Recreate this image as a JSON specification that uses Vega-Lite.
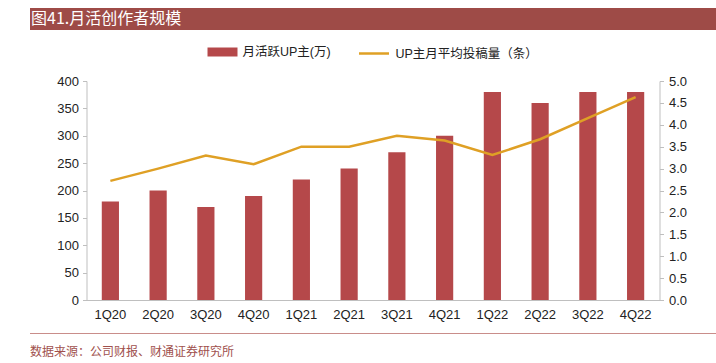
{
  "$schema": "https://vega.github.io/schema/vega-lite/v6.json",
  "padding": {"left": 30, "top": 8, "right": 0, "bottom": 0},
  "background": "white",
  "config": {"view": {"stroke": null}, "font": "Liberation Sans"},
  "bounds": "flush",
  "spacing": 51,
  "resolve": {"scale": {"fill": "independent", "stroke": "independent", "x": "independent", "y": "independent"}, "legend": {"fill": "independent", "stroke": "independent"}},
  "vconcat": [
    {
      "width": 686,
      "height": 22,
      "view": {"fill": "#9e4b47", "stroke": null},
      "data": {"values": [{"t": "图41.月活创作者规模"}]},
      "mark": {"type": "text", "align": "left", "baseline": "middle", "color": "white", "fontSize": 16, "font": "Noto Sans CJK SC", "dx": 1},
      "encoding": {
        "text": {"field": "t"},
        "x": {"datum": 0, "type": "quantitative", "scale": {"domain": [0, 1]}, "axis": null}
      }
    },
    {
      "bounds": "flush",
      "center": true,
      "spacing": 33,
      "resolve": {"scale": {"fill": "independent", "stroke": "independent", "x": "independent", "y": "independent"}, "legend": {"fill": "independent", "stroke": "independent"}},
      "vconcat": [
        {
          "width": 573,
          "height": 219,
          "data": {"values": [
            {"q": "1Q20", "up": 180, "avg": 2.72},
            {"q": "2Q20", "up": 200, "avg": 3.0},
            {"q": "3Q20", "up": 170, "avg": 3.3},
            {"q": "4Q20", "up": 190, "avg": 3.1},
            {"q": "1Q21", "up": 220, "avg": 3.5},
            {"q": "2Q21", "up": 240, "avg": 3.5},
            {"q": "3Q21", "up": 270, "avg": 3.75},
            {"q": "4Q21", "up": 300, "avg": 3.64},
            {"q": "1Q22", "up": 380, "avg": 3.31},
            {"q": "2Q22", "up": 360, "avg": 3.67},
            {"q": "3Q22", "up": 380, "avg": 4.15},
            {"q": "4Q22", "up": 380, "avg": 4.63}
          ]},
          "encoding": {
            "x": {"field": "q", "type": "nominal", "sort": null,
              "scale": {"paddingInner": 0.64, "paddingOuter": 0.32},
              "axis": {"title": null, "labelAngle": 0, "ticks": false, "labelPadding": 8, "labelFontSize": 13, "labelColor": "#222", "domainColor": "#bfbfbf"}}
          },
          "layer": [
            {
              "mark": {"type": "bar"},
              "encoding": {
                "y": {"field": "up", "type": "quantitative", "scale": {"domain": [0, 400]},
                  "axis": {"orient": "left", "title": null, "grid": false, "values": [0, 50, 100, 150, 200, 250, 300, 350, 400], "domainColor": "#bfbfbf", "tickColor": "#bfbfbf", "tickSize": 4, "labelPadding": 4, "labelFontSize": 13, "labelColor": "#222"}},
                "fill": {"datum": "月活跃UP主(万)", "scale": {"range": ["#b5484a"]},
                  "legend": {"orient": "none", "legendX": 115, "legendY": -50, "title": null, "direction": "horizontal", "symbolType": "M-1,-0.3L1,-0.3L1,0.3L-1,0.3Z", "symbolSize": 900, "symbolStrokeWidth": 0, "labelFontSize": 12.5, "labelFont": "Liberation Sans, Noto Sans CJK SC", "labelColor": "#222", "labelOffset": 5, "padding": 6}}
              }
            },
            {
              "mark": {"type": "line", "strokeWidth": 2.5},
              "encoding": {
                "y": {"field": "avg", "type": "quantitative", "scale": {"domain": [0, 5]},
                  "axis": {"orient": "right", "title": null, "grid": false, "values": [0, 0.5, 1, 1.5, 2, 2.5, 3, 3.5, 4, 4.5, 5], "format": ".1f", "domainColor": "#bfbfbf", "tickColor": "#bfbfbf", "tickSize": 4, "labelPadding": 5, "labelFontSize": 13, "labelColor": "#222"}},
                "stroke": {"datum": "UP主月平均投稿量（条）", "scale": {"range": ["#dfa025"]},
                  "legend": {"orient": "none", "legendX": 265, "legendY": -50, "title": null, "direction": "horizontal", "symbolType": "stroke", "symbolSize": 900, "symbolStrokeWidth": 2.5, "labelFontSize": 12.5, "labelFont": "Liberation Sans, Noto Sans CJK SC", "labelColor": "#222", "labelOffset": 5, "padding": 6}}
              }
            }
          ],
          "resolve": {"scale": {"y": "independent"}}
        },
        {
          "width": 686,
          "height": 1,
          "view": {"fill": "#c98d8a", "stroke": null},
          "title": {"text": "数据来源：公司财报、财通证券研究所", "orient": "bottom", "anchor": "start", "offset": 8, "fontSize": 12, "color": "#a0504d", "font": "Noto Sans CJK SC", "fontWeight": "normal"},
          "data": {"values": [{"t": ""}]},
          "mark": {"type": "text", "opacity": 0},
          "encoding": {"text": {"field": "t"}}
        }
      ]
    }
  ]
}
